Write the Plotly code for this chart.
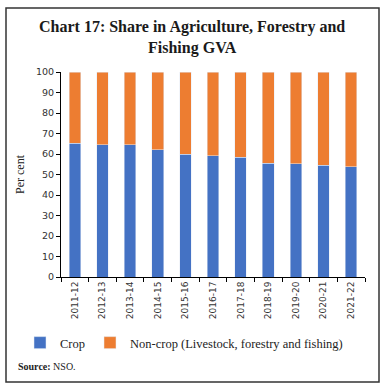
import plotly.graph_objects as go

years = ["2011-12", "2012-13", "2013-14", "2014-15", "2015-16", "2016-17",
         "2017-18", "2018-19", "2019-20", "2020-21", "2021-22"]
crop = [65.3, 64.4, 64.4, 62.0, 59.9, 59.1, 58.4, 55.6, 55.3, 54.6, 53.7]
noncrop = [round(100 - c, 1) for c in crop]

W, H = 385, 389
L, R, T, B = 61, 20, 72, 112
pw, ph = W - L - R, H - T - B

def px(x):
    return (x - L) / pw

def py(y):
    return (H - B - y) / ph

fig = go.Figure()
fig.add_trace(go.Bar(x=years, y=crop, name="Crop", marker_color="#4472C4"))
fig.add_trace(go.Bar(x=years, y=noncrop, name="Non-crop (Livestock, forestry and fishing)",
                     marker_color="#ED7D31"))

serif = "Liberation Serif"
fig.update_layout(
    width=W, height=H, barmode="stack", bargap=0.58,
    margin=dict(l=L, r=R, t=T, b=B, autoexpand=False),
    paper_bgcolor="white", plot_bgcolor="white",
    showlegend=True,
    legend=dict(orientation="h", x=px(20), xanchor="left", y=py(343), yanchor="middle",
                bgcolor="rgba(0,0,0,0)", itemwidth=30,
                font=dict(family=serif, size=12.5, color="#222"),
                traceorder="normal"),
    xaxis=dict(type="category", showline=True, linecolor="black", linewidth=1,
               ticks="outside", ticklen=4, tickson="boundaries", tickcolor="black",
               automargin=False,
               tickangle=-90, tickfont=dict(family="DejaVu Sans", size=9, color="#333")),
    yaxis=dict(range=[0, 100], dtick=10, showline=True, linecolor="black", linewidth=1,
               ticks="outside", ticklen=4, tickcolor="black", showgrid=False,
               automargin=False,
               tickfont=dict(family="DejaVu Sans", size=9.5, color="#333"),
               title=dict(text="Per cent", font=dict(family=serif, size=12, color="#222"),
                          standoff=8)),
    annotations=[
        dict(text="<b>Chart 17: Share in Agriculture, Forestry and<br>Fishing GVA</b>",
             xref="paper", yref="paper", x=px(192), y=py(37), xanchor="center",
             yanchor="middle", showarrow=False,
             font=dict(family=serif, size=16, color="#1a1a1a")),
        dict(text="<b>Source:</b> NSO.", xref="paper", yref="paper", x=px(16), y=py(366),
             xanchor="left", yanchor="middle", showarrow=False,
             font=dict(family=serif, size=10, color="#222")),
    ],
    shapes=[dict(type="rect", xref="paper", yref="paper", x0=px(6), x1=px(379),
                 y0=py(382), y1=py(8), line=dict(color="#333", width=1.5))],
)
fig.write_html("out.html", config={"displayModeBar": False},
               post_script="document.body.style.margin='0';")
